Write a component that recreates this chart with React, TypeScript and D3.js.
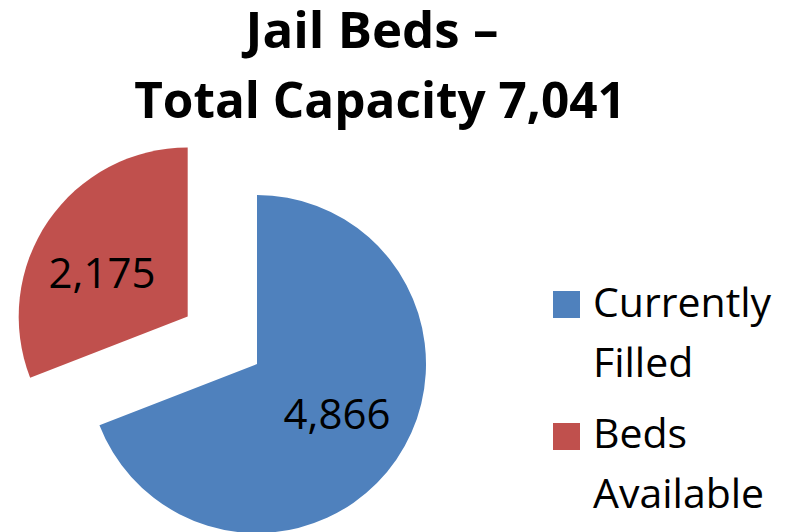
import React from "react";
import * as d3 from "d3";

const categories = ["Currently Filled", "Beds Available"];
const values = [4866, 2175];
const labels = ["4,866", "2,175"];
const legendLines = [["Currently", "Filled"], ["Beds", "Available"]];
const titleLines = ["Jail Beds –", "Total Capacity 7,041"];
const colors = ["#4F81BD", "#C0504D"];

export default function App() {
  const W = 794, H = 532;
  const cx = 257, cy = 364, r = 169;
  const explode = [0, 84];
  const pie = d3.pie<number>().sort(null).startAngle(0).endAngle(2 * Math.PI);
  const arcs = pie(values);
  const arc = d3.arc<d3.PieArcDatum<number>>().innerRadius(0).outerRadius(r);
  const font = "'Open Sans', 'Noto Sans', sans-serif";
  const labelPos = [
    [337, 429],
    [102, 288],
  ];
  return (
    <svg width={W} height={H} style={{ position: "absolute", left: 0, top: 0 }}>
      <rect width={W} height={H} fill="#fff" />
      {titleLines.map((t, i) => (
        <text key={i} x={i === 0 ? 372 : 380} y={i === 0 ? 48 : 118} textAnchor="middle"
          fontFamily={font} fontWeight="bold" fontSize={i === 0 ? 51 : 49.5} fill="#000">{t}</text>
      ))}
      {arcs.map((a, i) => {
        const mid = (a.startAngle + a.endAngle) / 2;
        const dx = Math.sin(mid) * explode[i];
        const dy = -Math.cos(mid) * explode[i];
        return (
          <g key={i} transform={`translate(${cx + dx},${cy + dy})`}>
            <path d={arc(a) || ""} fill={colors[i]} />
          </g>
        );
      })}
      {labels.map((l, i) => (
        <text key={i} x={labelPos[i][0]} y={labelPos[i][1]} textAnchor="middle"
          fontFamily={font} fontSize={42} fill="#000">{l}</text>
      ))}
      {categories.map((c, i) => (
        <g key={c}>
          <rect x={553} y={i === 0 ? 291 : 423} width={27} height={27} fill={colors[i]} />
          {legendLines[i].map((ln, j) => (
            <text key={j} x={593} y={(i === 0 ? 317 : 448) + j * 60}
              fontFamily={font} fontSize={41} fill="#000">{ln}</text>
          ))}
        </g>
      ))}
    </svg>
  );
}
